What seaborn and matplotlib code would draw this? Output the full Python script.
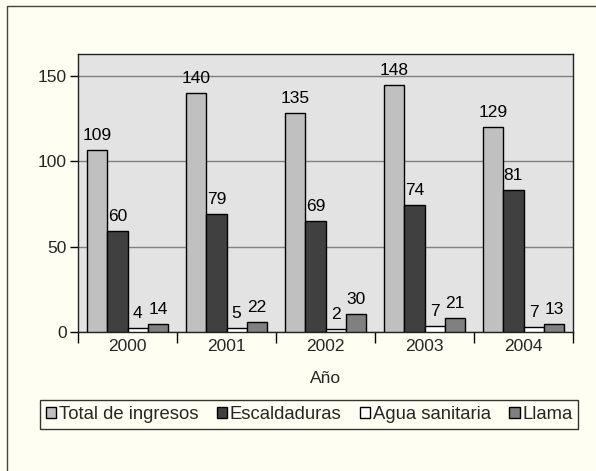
import numpy as np
import pandas as pd
import seaborn as sns
import matplotlib.pyplot as plt
from matplotlib.patches import Patch, Rectangle

# Data
years = ["2000", "2001", "2002", "2003", "2004"]
series = ["Total de ingresos", "Escaldaduras", "Agua sanitaria", "Llama"]
# bar heights as drawn
total_h = [107, 140, 128.5, 145, 120]
escald_h = [59.5, 69, 65, 74.5, 83.5]
agua_h = [2.5, 2.5, 2, 3.3, 2.9]
llama_h = [4.9, 5.9, 10.5, 8.4, 4.9]
# value labels as printed
total_lbl = [109, 140, 135, 148, 129]
escald_lbl = [60, 79, 69, 74, 81]
agua_lbl = [4, 5, 2, 7, 7]
llama_lbl = [14, 22, 30, 21, 13]

colors = ["#c0c0c0", "#404040", "#ffffff", "#808080"]
bg = "#fefef2"
fs = 12.5

heights = [total_h, escald_h, agua_h, llama_h]
labels = [total_lbl, escald_lbl, agua_lbl, llama_lbl]

rows = []
for s, h, l in zip(series, heights, labels):
    for y, v, t in zip(years, h, l):
        rows.append({"Año": y, "serie": s, "valor": v, "etiqueta": t})
df = pd.DataFrame(rows)

sns.set_style("white")
plt.rcParams["font.family"] = ["Liberation Sans", "DejaVu Sans"]
plt.rcParams["font.size"] = fs

fig = plt.figure(figsize=(5.96, 4.71), dpi=100, facecolor=bg)
ax = fig.add_axes([78 / 596, 1 - 332 / 471, 495 / 596, 278 / 471])
ax.set_facecolor("#e3e3e3")

sns.barplot(data=df, x="Año", y="valor", hue="serie", hue_order=series,
            order=years, palette=colors, width=0.82, gap=0,
            edgecolor="black", linewidth=1, saturation=1,
            legend=False, ax=ax, zorder=3)

# value labels
for cont, lbl in zip(ax.containers, labels):
    for bar, t in zip(cont, lbl):
        ax.annotate(str(t), (bar.get_x() + bar.get_width() / 2, bar.get_height()),
                    xytext=(0, 5), textcoords="offset points",
                    ha="center", va="bottom", fontsize=fs, color="black")

# axes styling
ax.set_ylim(0, 163)
ax.set_xlim(-0.5, 4.5)
ax.set_yticks([0, 50, 100, 150])
ax.yaxis.grid(True, color="#808080", linewidth=1, zorder=1)
ax.set_axisbelow(True)
ax.tick_params(axis="y", direction="out", length=6, width=1, color="black",
               labelsize=fs, pad=2, left=True)
ax.set_xticks(np.arange(-0.5, 5, 1))
ax.set_xticklabels([])
ax.tick_params(axis="x", which="major", direction="out", length=8, width=1,
               color="black", bottom=True)
ax.set_xticks(np.arange(5), minor=True)
ax.set_xticklabels(years, minor=True)
ax.tick_params(axis="x", which="minor", length=0, labelsize=fs, pad=5)
for sp in ax.spines.values():
    sp.set_color("#222222")
    sp.set_linewidth(1)
ax.set_xlabel("Año", fontsize=fs, labelpad=12)
ax.set_ylabel("")

# legend
handles = [Patch(facecolor=c, edgecolor="black", linewidth=1) for c in colors]
leg = fig.legend(handles, series, loc="center", bbox_to_anchor=(0.519, 0.12),
                 ncol=4, frameon=True, fancybox=False, edgecolor="black",
                 handlelength=0.55, handleheight=0.55, handletextpad=0.15,
                 columnspacing=1.0, borderpad=0.3, fontsize=13.3)
leg.get_frame().set_linewidth(1)
leg.get_frame().set_facecolor(bg)

# outer frame (only left and top visible)
fig.patches.append(Rectangle((7 / 596, -0.1), 1.2, 1 - 6 / 471 + 0.1,
                             transform=fig.transFigure, fill=False,
                             edgecolor="#444444", linewidth=1))

fig.savefig("out.png", dpi=100, facecolor=bg)
